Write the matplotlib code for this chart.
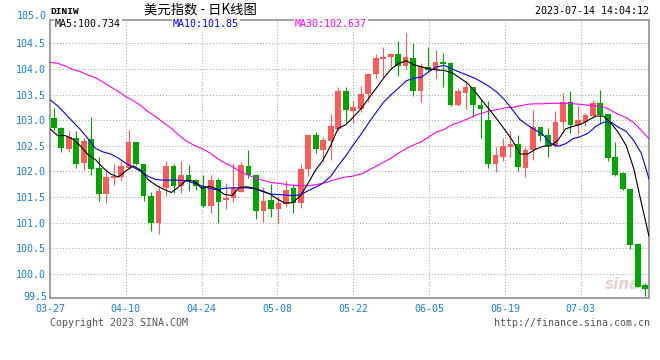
import numpy as np
import matplotlib
matplotlib.use("Agg")
import matplotlib.pyplot as plt

# ---------------- data ----------------
dates = ["03-27", "04-10", "04-24", "05-08", "05-22", "06-05", "06-19", "07-03"]

opens = [103.045, 102.85, 102.435, 102.656, 102.16, 102.64, 102.065, 101.56, 101.877, 101.90,
         102.07, 102.565, 102.136, 101.52, 101.00, 101.68, 102.10, 101.71, 101.94, 101.83,
         101.715, 101.33, 101.84, 101.44, 101.49, 101.60, 102.10, 101.94, 101.23, 101.44,
         101.26, 101.37, 101.68, 101.39, 102.04, 102.71, 102.42, 102.60, 102.83, 103.56,
         103.18, 103.22, 103.51, 103.90, 104.19, 104.24, 104.29, 104.05, 104.21, 103.56,
         104.04, 103.98, 104.14, 104.12, 103.30, 103.53, 103.64, 103.30, 103.00, 102.136,
         102.28, 102.47, 102.54, 102.07, 102.41, 102.86, 102.71, 102.49, 102.97, 103.36,
         102.91, 102.96, 103.09, 103.34, 103.12, 102.29, 101.97, 101.65, 100.58, 99.78]
highs = [103.24, 102.86, 102.79, 102.79, 102.65, 103.06, 102.28, 102.00, 102.136, 102.20,
         102.81, 102.57, 102.15, 101.60, 101.71, 102.21, 102.14, 102.20, 102.12, 101.86,
         101.94, 101.94, 101.88, 101.78, 102.17, 102.18, 102.42, 101.94, 101.70, 101.76,
         101.53, 101.81, 101.76, 102.14, 102.73, 102.77, 102.68, 103.12, 103.64, 103.64,
         103.38, 103.66, 103.93, 104.30, 104.43, 104.32, 104.55, 104.71, 104.51, 104.11,
         104.42, 104.36, 104.32, 104.13, 103.62, 103.77, 103.64, 103.40, 103.38, 102.47,
         102.65, 102.78, 102.72, 102.47, 103.19, 102.86, 102.84, 103.17, 103.53, 103.56,
         103.28, 103.14, 103.40, 103.59, 103.12, 102.57, 101.99, 101.65, 100.60, 99.83]
lows = [102.80, 102.37, 102.37, 102.07, 102.02, 101.94, 101.42, 101.385, 101.74, 101.825,
        102.05, 102.12, 101.42, 100.84, 100.77, 101.52, 101.58, 101.58, 101.62, 101.64,
        101.31, 101.19, 101.00, 101.26, 101.40, 101.60, 101.88, 101.07, 101.02, 101.11,
        101.00, 101.31, 101.19, 101.29, 101.91, 102.36, 102.18, 102.22, 102.78, 102.97,
        102.95, 103.15, 103.36, 103.83, 103.85, 104.03, 103.86, 103.99, 103.48, 103.36,
        103.95, 103.82, 103.64, 103.28, 103.28, 103.22, 103.07, 102.66, 102.065, 101.99,
        102.21, 102.29, 102.00, 101.89, 102.22, 102.60, 102.29, 102.47, 102.81, 102.75,
        102.73, 102.88, 103.06, 102.94, 102.20, 101.92, 101.63, 100.49, 99.745, 99.56]
closes = [102.85, 102.45, 102.67, 102.136, 102.60, 102.045, 101.56, 101.90, 101.92, 102.10,
          102.565, 102.15, 101.52, 101.00, 101.62, 102.10, 101.71, 101.94, 101.79, 101.71,
          101.32, 101.84, 101.40, 101.49, 101.68, 102.12, 101.93, 101.23, 101.42, 101.26,
          101.385, 101.63, 101.39, 102.04, 102.71, 102.435, 102.62, 102.89, 103.56, 103.19,
          103.25, 103.51, 103.90, 104.21, 104.24, 104.29, 104.05, 104.24, 103.56, 104.06,
          103.98, 104.13, 104.10, 103.30, 103.57, 103.64, 103.30, 103.22, 102.136, 102.325,
          102.49, 102.54, 102.08, 102.42, 102.86, 102.69, 102.49, 102.97, 103.36, 102.91,
          103.01, 103.10, 103.33, 103.10, 102.265, 101.94, 101.65, 100.56, 99.745, 99.70]

ma5 = [102.83, 102.70, 102.70, 102.63, 102.50, 102.33, 102.23, 102.07, 101.95, 101.89,
       102.01, 102.11, 102.02, 101.83, 101.73, 101.65, 101.59, 101.70, 101.83, 101.81,
       101.67, 101.71, 101.66, 101.55, 101.53, 101.69, 101.70, 101.67, 101.62, 101.56,
       101.46, 101.38, 101.39, 101.52, 101.76, 102.02, 102.22, 102.50, 102.84, 102.91,
       103.06, 103.22, 103.42, 103.62, 103.82, 104.00, 104.11, 104.16, 104.08, 104.04,
       104.00, 103.98, 103.97, 103.93, 103.83, 103.73, 103.57, 103.38, 103.20, 103.01,
       102.81, 102.60, 102.34, 102.34, 102.43, 102.49, 102.50, 102.61, 102.83, 102.88,
       102.92, 103.00, 103.08, 103.08, 102.94, 102.75, 102.50, 102.05, 101.38, 100.734]
ma10 = [103.40, 103.28, 103.13, 102.97, 102.82, 102.64, 102.45, 102.38, 102.34, 102.26,
        102.16, 102.08, 102.00, 101.90, 101.84, 101.83, 101.83, 101.83, 101.82, 101.77,
        101.72, 101.67, 101.64, 101.67, 101.68, 101.68, 101.68, 101.66, 101.61, 101.56,
        101.55, 101.54, 101.53, 101.54, 101.62, 101.69, 101.77, 101.90, 102.11, 102.30,
        102.52, 102.72, 102.94, 103.15, 103.35, 103.50, 103.63, 103.77, 103.82, 103.84,
        103.95, 104.04, 104.07, 104.00, 103.94, 103.88, 103.82, 103.74, 103.65, 103.54,
        103.39, 103.20, 103.01, 102.90, 102.81, 102.72, 102.55, 102.49, 102.54, 102.64,
        102.68, 102.75, 102.88, 102.96, 102.96, 102.86, 102.78, 102.60, 102.35, 101.85]
ma30 = [104.13, 104.11, 104.06, 103.99, 103.95, 103.88, 103.83, 103.74, 103.65, 103.56,
        103.46, 103.38, 103.28, 103.16, 103.06, 102.95, 102.84, 102.71, 102.59, 102.51,
        102.45, 102.37, 102.26, 102.17, 102.10, 102.00, 101.94, 101.87, 101.83, 101.79,
        101.77, 101.75, 101.73, 101.72, 101.72, 101.74, 101.77, 101.81, 101.86, 101.89,
        101.91, 101.95, 102.02, 102.10, 102.18, 102.26, 102.36, 102.45, 102.52, 102.58,
        102.68, 102.77, 102.82, 102.91, 102.96, 103.02, 103.09, 103.14, 103.18, 103.21,
        103.24, 103.25, 103.28, 103.31, 103.32, 103.32, 103.33, 103.33, 103.33, 103.32,
        103.31, 103.29, 103.28, 103.26, 103.19, 103.11, 103.05, 102.95, 102.80, 102.637]

yticks = [100.0, 100.5, 101.0, 101.5, 102.0, 102.5, 103.0, 103.5, 104.0, 104.5]

# ---------------- figure ----------------
plt.rcParams["font.family"] = ["DejaVu Sans Mono"]
W, H = 660, 360
fig = plt.figure(figsize=(W / 100, H / 100), dpi=100)
fig.patch.set_facecolor("white")
ax = fig.add_axes([50 / W, (H - 298) / H, (649 - 50) / W, (298 - 20) / H])

n = len(closes)
xl = np.arange(n)
xc = (xl + 0.5) * (n - 1) / n
ax.set_xlim(0, n - 1)
ax.set_ylim(99.53, 104.955)

RED, GREEN = "#ff5a5a", "#00a600"
BLUE_LBL = "#1a80d8"
grid_kw = dict(color="#a8a8a8", lw=0.75, ls=(0, (1.0, 2.0)), zorder=1)
for k in range(10, n, 10):
    ax.axvline(k, **grid_kw)
for v in yticks:
    ax.axhline(v, **grid_kw)

o = np.array(opens); c = np.array(closes)
hi = np.array(highs); lo = np.array(lows)
up = c >= o
cols = np.where(up, RED, GREEN)
ax.vlines(xc, lo, hi, colors=cols, lw=0.8, zorder=2.5)
bottom = np.minimum(o, c)
height = np.maximum(np.abs(c - o), 0.014)
ax.bar(xc, height, bottom=bottom, width=0.75, color=cols, linewidth=0, zorder=3)

ax.plot(xl, ma30, color="#ff00ff", lw=0.8, zorder=4)
ax.plot(xl, ma10, color="#0000ff", lw=0.8, zorder=4)
ax.plot(xl, ma5, color="#000000", lw=0.8, zorder=4.5)

ax.text(0.985, 0.02, "sina", transform=ax.transAxes, ha="right", va="bottom",
        fontsize=11, fontstyle="italic", fontweight="bold", color="#e2d2d2",
        family="DejaVu Sans", zorder=1.5)

for side in ["left", "bottom", "right", "top"]:
    ax.spines[side].set_color("#999999")
    ax.spines[side].set_linewidth(1.3)

ax.set_xticks(np.arange(0, n, 10))
ax.set_xticklabels(dates)
ax.set_yticks(yticks)
ax.set_yticklabels([f"{v:.1f}" for v in yticks])
ax.tick_params(axis="both", length=0, labelsize=7.2, labelcolor=BLUE_LBL)
ax.tick_params(axis="y", pad=3)
ax.tick_params(axis="x", pad=4.5)

# extreme y labels
fig.text(47 / W, 1 - 16 / H, "105.0", ha="right", va="center", fontsize=7.2, color=BLUE_LBL)
fig.text(47 / W, 1 - 297.5 / H, "99.5", ha="right", va="center", fontsize=7.2, color=BLUE_LBL)

# header texts
fig.text(50.5 / W, 1 - 12 / H, "DINIW", ha="left", va="center", fontsize=6.8,
         fontweight="bold", family="Liberation Mono", color="black")
fig.text(200 / W, 1 - 10 / H, "美元指数 - 日K线图", ha="center", va="center", fontsize=9.6,
         family=["Noto Sans CJK SC", "DejaVu Sans"], color="black")
fig.text(649 / W, 1 - 11.5 / H, "2023-07-14 14:04:12", ha="right", va="center",
         fontsize=7.2, color="black")

box = dict(facecolor="white", edgecolor="none", pad=0.6)
fig.text(55 / W, 1 - 24 / H, "MA5:100.734", ha="left", va="center", fontsize=7.2,
         color="black", bbox=box)
fig.text(173 / W, 1 - 24 / H, "MA10:101.85", ha="left", va="center", fontsize=7.2,
         color="#0000ff", bbox=box)
fig.text(295 / W, 1 - 24 / H, "MA30:102.637", ha="left", va="center", fontsize=7.2,
         color="#ff00ff", bbox=box)

# footer texts
fig.text(50 / W, 1 - 323 / H, "Copyright 2023 SINA.COM", ha="left", va="center",
         fontsize=7.2, color="#555555")
fig.text(650 / W, 1 - 323 / H, "http://finance.sina.com.cn", ha="right", va="center",
         fontsize=7.2, color="#555555")

fig.savefig("out.png", dpi=100, facecolor="white")
